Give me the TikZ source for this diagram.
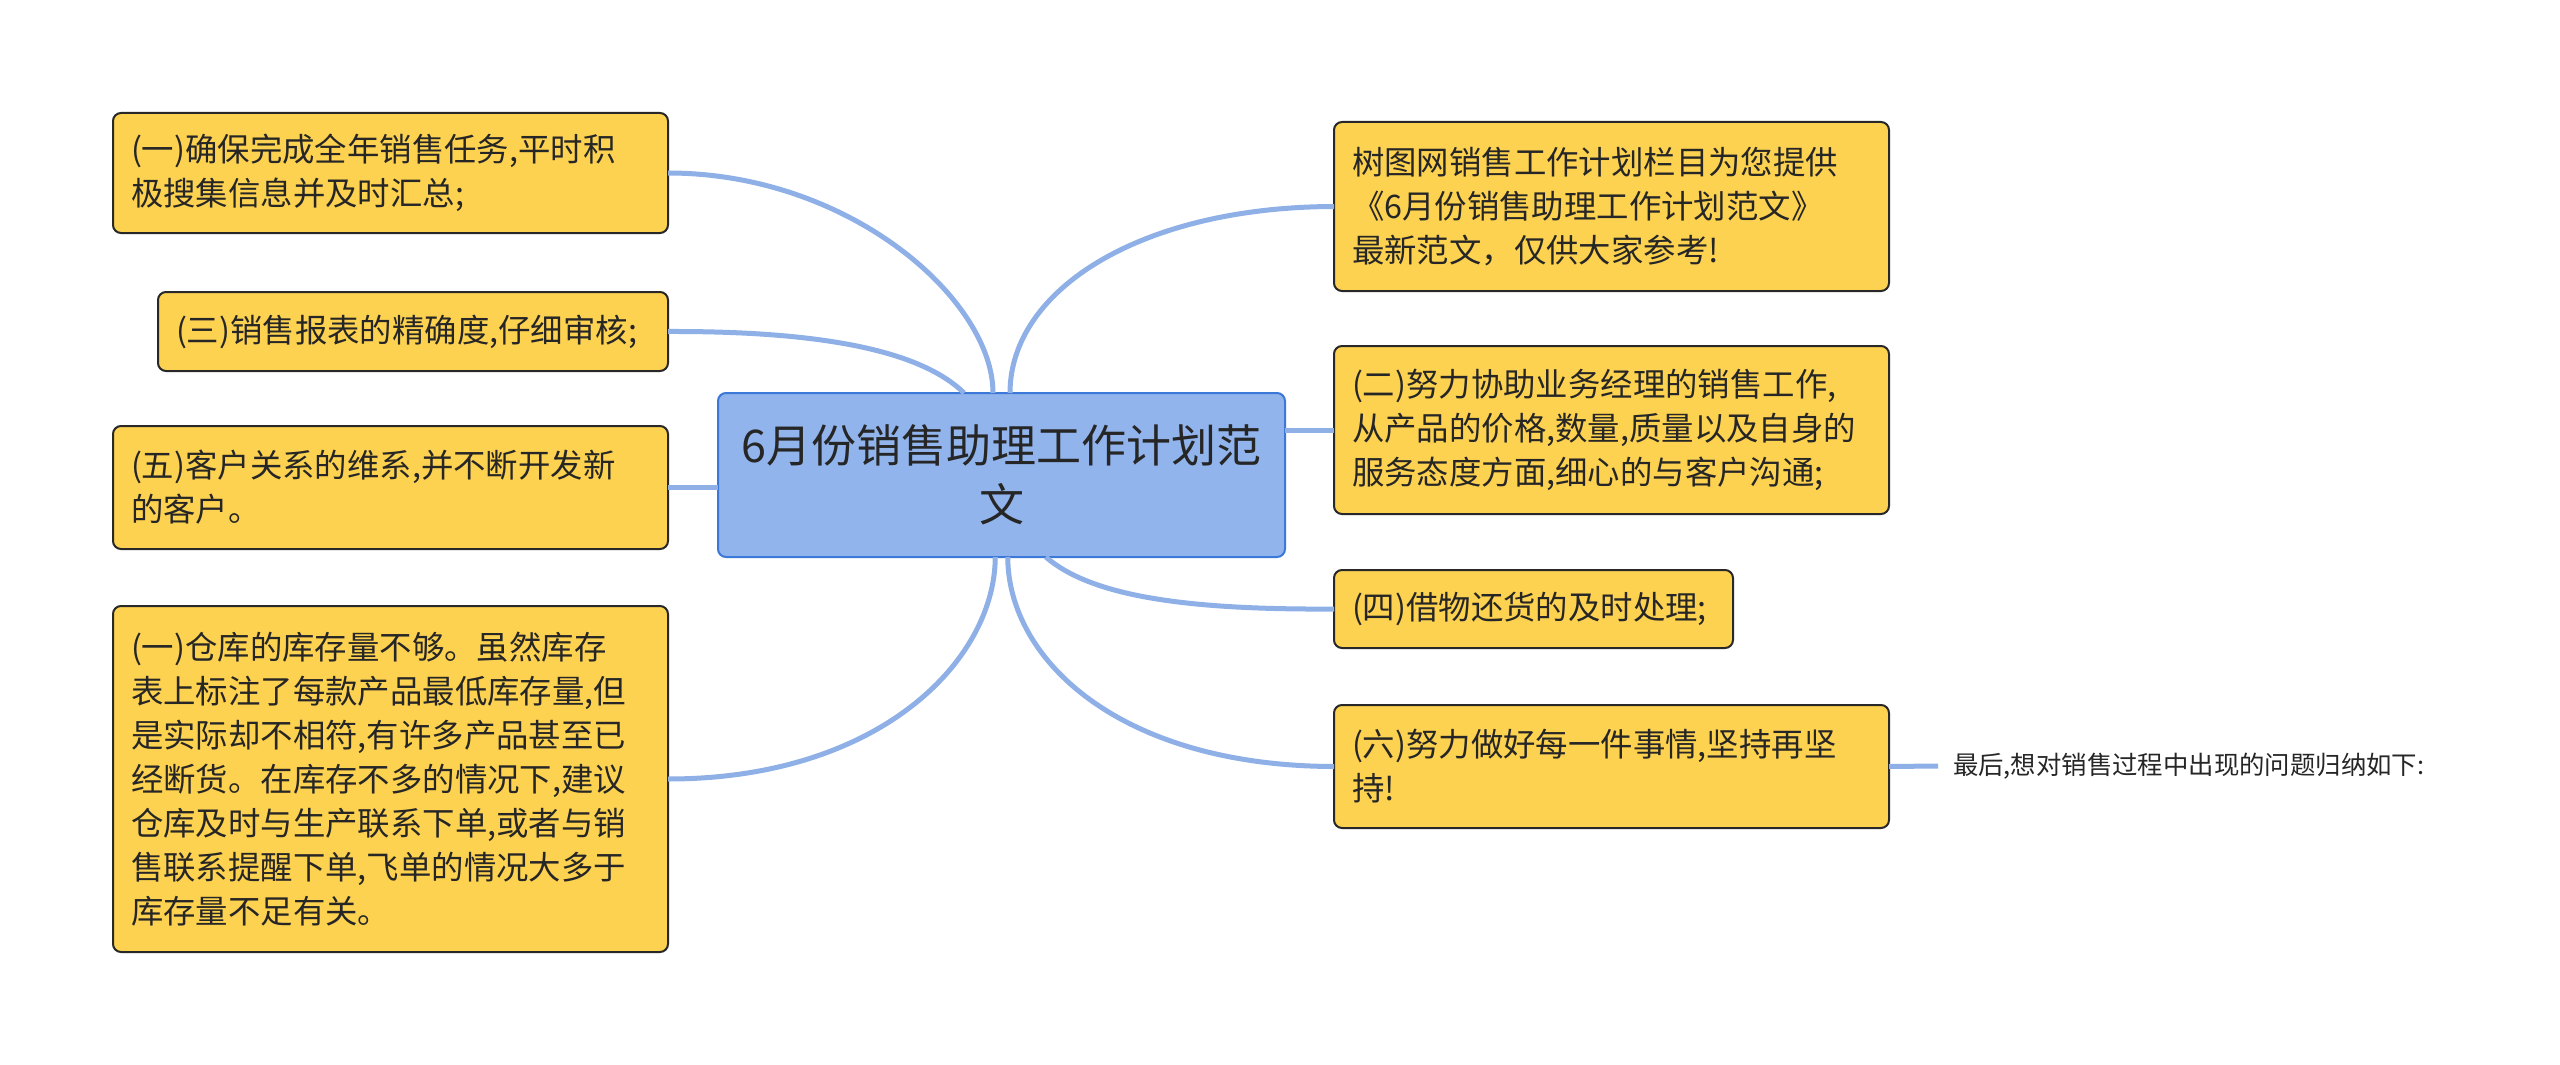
\documentclass[tikz,border=0pt]{standalone}
\usepackage{fontspec}
\setmainfont{Noto Sans CJK SC}
\usetikzlibrary{calc}
\definecolor{boxfill}{RGB}{253,210,80}
\definecolor{boxline}{RGB}{40,40,40}
\definecolor{rootfill}{RGB}{145,180,236}
\definecolor{rootline}{RGB}{60,120,216}
\definecolor{connblue}{RGB}{142,176,230}
\definecolor{txt}{RGB}{38,38,38}
\tikzset{
  leafbox/.style={draw=boxline, line width=1pt, fill=boxfill, rounded corners=4pt,
    anchor=north west, inner xsep=9pt, inner ysep=4pt, outer sep=0pt, align=left,
    text=txt, font=\fontsize{16.2}{22}\selectfont},
  rootbox/.style={draw=rootline, line width=1pt, fill=rootfill, rounded corners=4pt,
    anchor=north west, inner xsep=9pt, outer sep=0pt, align=center,
    text=txt, font=\fontsize{22.5}{29.5}\selectfont},
  conn/.style={draw=connblue, line width=2.5pt},
  smalltext/.style={anchor=west, inner xsep=7.5pt, outer sep=0pt, text=txt,
    font=\fontsize{12.7}{16}\selectfont}
}
\begin{document}
\begin{tikzpicture}[x=0.5pt,y=-0.5pt]
\useasboundingbox[fill=white] (0,0) rectangle (2560,1065);

% root
\node[rootbox, text width=265.5pt, minimum height=82pt] (c) at (718,393)
  {6月份销售助理工作计划范\\文};

% left
\node[leafbox, text width=259.5pt, minimum height=60pt] (n1) at (113,113)
  {(一)确保完成全年销售任务,平时积\\极搜集信息并及时汇总;};
\node[leafbox, text width=237pt, minimum height=39.5pt] (n2) at (158,292)
  {(三)销售报表的精确度,仔细审核;};
\node[leafbox, text width=259.5pt, minimum height=61.5pt] (n3) at (113,426)
  {(五)客户关系的维系,并不断开发新\\的客户。};
\node[leafbox, text width=259.5pt, minimum height=173pt] (n4) at (113,606)
  {(一)仓库的库存量不够。虽然库存\\表上标注了每款产品最低库存量,但\\是实际却不相符,有许多产品甚至已\\经断货。在库存不多的情况下,建议\\仓库及时与生产联系下单,或者与销\\售联系提醒下单,飞单的情况大多于\\库存量不足有关。};

% right
\node[leafbox, text width=259.5pt, minimum height=84.5pt] (n5) at (1334,122)
  {树图网销售工作计划栏目为您提供\\《6月份销售助理工作计划范文》\\最新范文，仅供大家参考!};
\node[leafbox, text width=259.5pt, minimum height=84pt] (n6) at (1334,346)
  {(二)努力协助业务经理的销售工作,\\从产品的价格,数量,质量以及自身的\\服务态度方面,细心的与客户沟通;};
\node[leafbox, text width=181.5pt, minimum height=39pt] (n7) at (1334,570)
  {(四)借物还货的及时处理;};
\node[leafbox, text width=259.5pt, minimum height=61.5pt] (n8) at (1334,705)
  {(六)努力做好每一件事情,坚持再坚\\持!};

\node[smalltext] (t9) at (1938,766) {最后,想对销售过程中出现的问题归纳如下:};

% connectors
\draw[conn] (n1.east) .. controls (850,173) and (993,300) .. ($(c.north west)!0.485!(c.north east)$);
\draw[conn] (n2.east) .. controls (820,331) and (920,350) .. ($(c.north west)!0.434!(c.north east)$);
\draw[conn] (n3.east) -- (n3.east -| c.west);
\draw[conn] (n4.east) .. controls (880,779) and (995,660) .. ($(c.south west)!0.489!(c.south east)$);
\draw[conn] (n5.west) .. controls (1140,207) and (1010,290) .. ($(c.north west)!0.515!(c.north east)$);
\draw[conn] (n6.west) -- (n6.west -| c.east);
\draw[conn] (n7.west) .. controls (1180,610) and (1090,595) .. ($(c.south west)!0.578!(c.south east)$);
\draw[conn] (n8.west) .. controls (1120,766) and (1008,660) .. ($(c.south west)!0.511!(c.south east)$);
\draw[conn] (n8.east) -- (t9.west);
\end{tikzpicture}
\end{document}
